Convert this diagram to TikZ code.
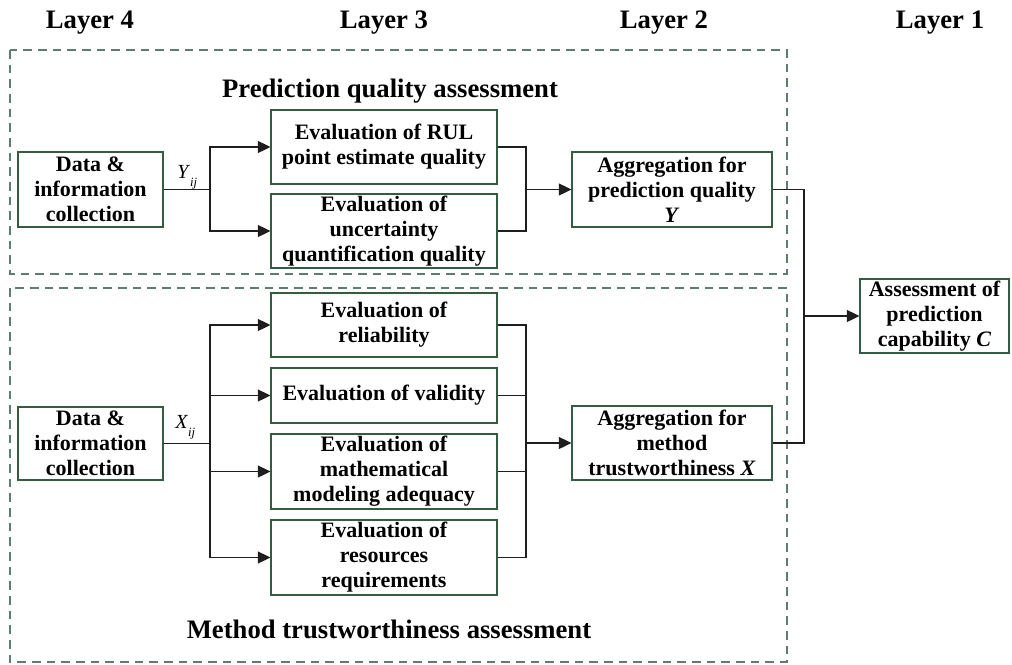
\documentclass[tikz,border=0pt]{standalone}
\usepackage{fontspec}
\setmainfont{Liberation Serif}
\usetikzlibrary{arrows.meta}
\definecolor{boxgreen}{RGB}{52,92,64}
\definecolor{dashgreen}{RGB}{95,125,110}
\definecolor{linegray}{RGB}{30,30,30}
\tikzset{
  box/.style={draw=boxgreen, line width=0.8pt, align=center, inner sep=0pt, fill=white,
    font=\bfseries\fontsize{16.5}{18.75}\selectfont},
  dbox/.style={draw=dashgreen, line width=0.8pt, dash pattern=on 6.5pt off 4.5pt},
  conn/.style={draw=linegray, line width=1pt},
  arr/.style={conn, -{Triangle[length=9.5pt,width=9pt]}},
  header/.style={font=\bfseries\fontsize{20}{24}\selectfont, anchor=base},
  sublabel/.style={font=\fontsize{15}{18}\selectfont, anchor=base west, inner sep=0pt}
}
\begin{document}
\begin{tikzpicture}[x=0.75pt,y=-0.75pt]
\useasboundingbox (0,0) rectangle (1012,664);
% headers
\node[header] (L4) at (90,28) {Layer 4};
\node[header] (L3) at (384,28) {Layer 3};
\node[header] (L2) at (664,28) {Layer 2};
\node[header] (L1) at (940,28) {Layer 1};
% dashed groups
\draw[dbox] (10,50) rectangle (787,274);
\draw[dbox] (10,288) rectangle (787,662);
\node[header] (T1) at (390,97) {Prediction quality assessment};
\node[header] (T2) at (389,638) {Method trustworthiness assessment};
% boxes
\node[box, minimum width=108.75pt, minimum height=56.25pt] (D1) at (90.5,189.5) {Data \&\\information\\collection};
\node[box, minimum width=108.75pt, minimum height=54.75pt] (D2) at (90.5,443.5) {Data \&\\information\\collection};
\node[box, minimum width=169.5pt, minimum height=55.5pt] (E1) at (384,147) {Evaluation of RUL\\point estimate quality};
\node[box, minimum width=169.5pt, minimum height=55.5pt] (E2) at (384,231) {Evaluation of\\uncertainty\\quantification quality};
\node[box, minimum width=169.5pt, minimum height=48pt] (E3) at (384,325) {Evaluation of\\reliability};
\node[box, minimum width=169.5pt, minimum height=41.25pt] (E4) at (384,395.5) {Evaluation of validity};
\node[box, minimum width=169.5pt, minimum height=56.25pt] (E5) at (384,471.5) {Evaluation of\\mathematical\\modeling adequacy};
\node[box, minimum width=169.5pt, minimum height=56.25pt] (E6) at (384,557.5) {Evaluation of\\resources\\requirements};
\node[box, minimum width=150pt, minimum height=56.25pt] (A1) at (672,189.5) {Aggregation for\\prediction quality\\\textit{Y}};
\node[box, minimum width=150pt, minimum height=55.5pt] (A2) at (672,443) {Aggregation for\\method\\trustworthiness \textit{X}};
\node[box, minimum width=111.75pt, minimum height=55.5pt] (C) at (934.5,316) {Assessment of\\prediction\\capability \textit{C}};
% labels
\node[sublabel] (Ylab) at (177,178) {\textit{Y}\raisebox{-0.4em}{\fontsize{9.5}{11}\selectfont\textit{ij}}};
\node[sublabel] (Xlab) at (175,428) {\textit{X}\raisebox{-0.4em}{\fontsize{9.5}{11}\selectfont\textit{ij}}};
% junction coordinates
\coordinate (j1) at (210,189.5);
\coordinate (j2) at (210,443.5);
\coordinate (m1) at (526,189.5);
\coordinate (m2) at (526,443);
\coordinate (m3) at (804,316);
% top group connectors
\draw[conn] (D1.east) -- (j1);
\draw[arr] (j1) |- (E1.west);
\draw[arr] (j1) |- (E2.west);
\draw[conn] (E1.east) -| (m1);
\draw[conn] (E2.east) -| (m1);
\draw[arr] (m1) -- (A1.west);
% bottom group connectors
\draw[conn] (D2.east) -- (j2);
\draw[arr] (j2) |- (E3.west);
\draw[arr] (j2) |- (E4.west);
\draw[arr] (j2) |- (E5.west);
\draw[arr] (j2) |- (E6.west);
\draw[conn] (E3.east) -| (m2);
\draw[conn] (E4.east) -| (m2);
\draw[conn] (E5.east) -| (m2);
\draw[conn] (E6.east) -| (m2);
\draw[arr] (m2) -- (A2.west);
% final
\draw[conn] (A1.east) -| (m3);
\draw[conn] (A2.east) -| (m3);
\draw[arr] (m3) -- (C.west);
\end{tikzpicture}
\end{document}
